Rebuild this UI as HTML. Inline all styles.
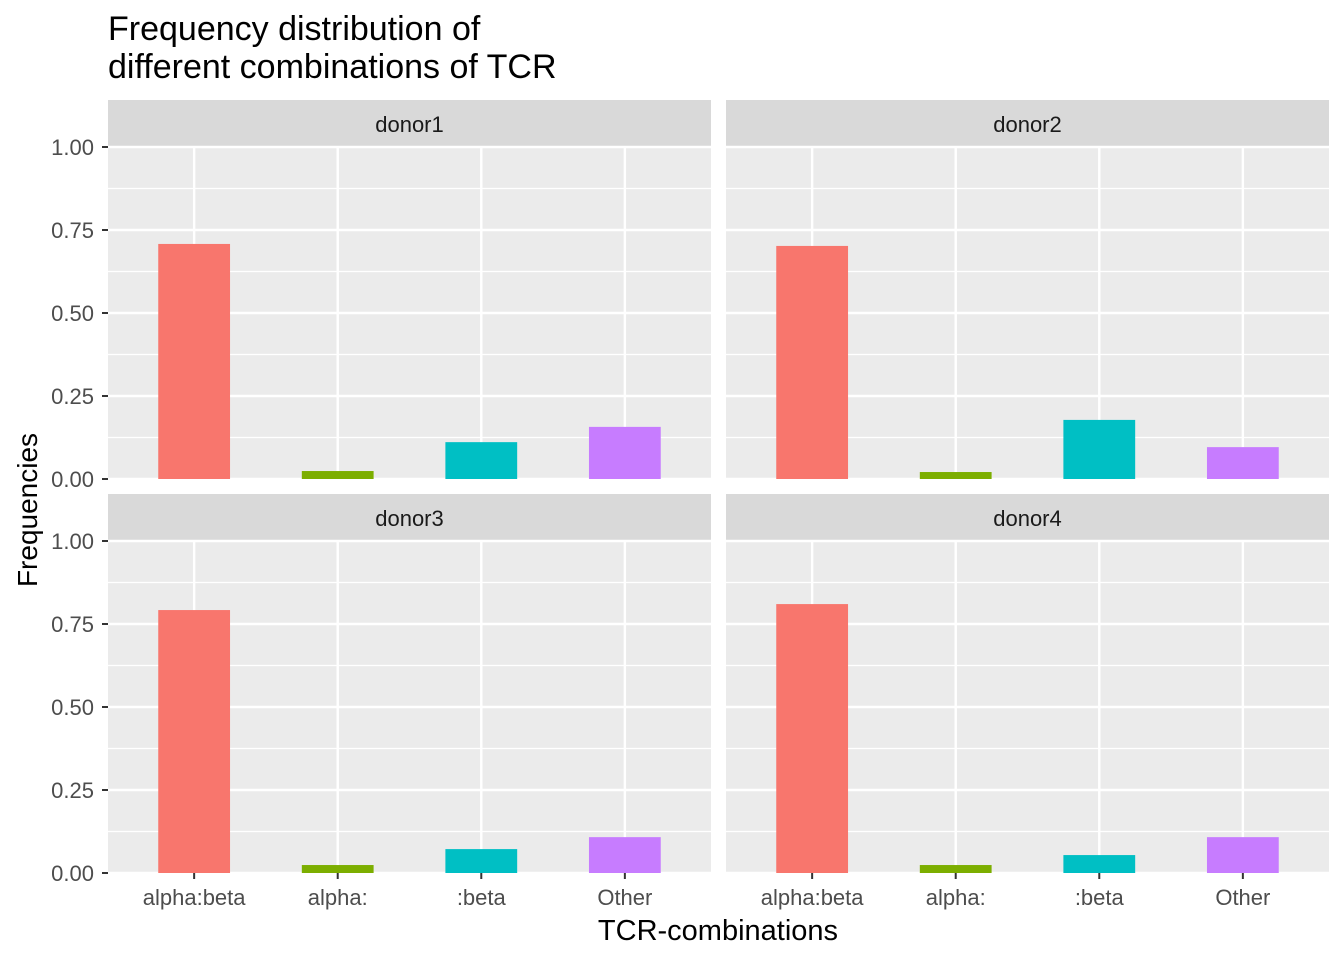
<!DOCTYPE html>
<html><head><meta charset="utf-8"><style>body{margin:0;background:#fff}svg{display:block}</style></head>
<body>
<svg id="chart" width="1344" height="960" xmlns="http://www.w3.org/2000/svg" font-family="Liberation Sans, sans-serif">
<text x="108" y="40" font-size="34" fill="#000">Frequency distribution of</text>
<text x="108" y="78" font-size="34" fill="#000">different combinations of TCR</text>
<text x="718" y="940" font-size="29" text-anchor="middle">TCR-combinations</text>
<text transform="translate(37,510) rotate(-90)" font-size="28" text-anchor="middle">Frequencies</text>
<g id="panels"></g>
</svg>
<script>
const categories = ["alpha:beta","alpha:",":beta","Other"];
const donors = ["donor1","donor2","donor3","donor4"];
const donor1Values = [0.708,0.024,0.111,0.157];
const donor2Values = [0.702,0.021,0.178,0.096];
const donor3Values = [0.792,0.024,0.072,0.108];
const donor4Values = [0.810,0.024,0.054,0.108];
const yTicks = [0,0.25,0.5,0.75,1.0];
const yTickLabels = ["0.00","0.25","0.50","0.75","1.00"];
const colors = ["#F8766D","#7CAE00","#00BFC4","#C77CFF"];
const allValues = [donor1Values,donor2Values,donor3Values,donor4Values];
const NS="http://www.w3.org/2000/svg";
const g=document.getElementById('panels');
function mk(tag,attrs,parent){const e=document.createElementNS(NS,tag);for(const k in attrs)e.setAttribute(k,attrs[k]);(parent||g).appendChild(e);return e;}
const panelX=[108,726], panelW=603;
const stripY=[100,494], stripH=46, plotH=333;
donors.forEach((d,i)=>{
  const col=i%2,row=Math.floor(i/2);
  const x0=panelX[col], top=stripY[row]+stripH, bottom=top+plotH;
  const yS=v=>bottom-v*332;
  const xS=c=>x0+(c+1-0.4)*panelW/4.2;
  const bw=0.5*panelW/4.2;
  const strip=mk('rect',{x:x0,y:stripY[row],width:panelW,height:stripH,fill:'#D9D9D9'});
  
  
  const st=mk('text',{x:x0+panelW/2,y:stripY[row]+32,'font-size':22,'text-anchor':'middle',fill:'#1A1A1A'});
  st.textContent=d;
  
  
  const bg=mk('rect',{x:x0,y:top,width:panelW,height:plotH,fill:'#EBEBEB'});
  
  
  for(let k=0;k<yTicks.length-1;k++){
    const m=(yTicks[k]+yTicks[k+1])/2;
    mk('line',{x1:x0,x2:x0+panelW,y1:yS(m),y2:yS(m),stroke:'#fff','stroke-width':1.2});
  }
  yTicks.forEach((t,k)=>{
    mk('line',{x1:x0,x2:x0+panelW,y1:yS(t),y2:yS(t),stroke:'#fff','stroke-width':2.4});
    if(col===0){
      mk('line',{x1:x0-6,x2:x0,y1:yS(t),y2:yS(t),stroke:'#333','stroke-width':2});
      const tl=mk('text',{x:x0-14,y:yS(t)+8,'font-size':22,'text-anchor':'end',fill:'#4D4D4D'});
      tl.textContent=yTickLabels[k];
      
      
    }
  });
  categories.forEach((c,k)=>{
    mk('line',{x1:xS(k),x2:xS(k),y1:top,y2:bottom,stroke:'#fff','stroke-width':2.4});
  });
  categories.forEach((c,k)=>{
    const v=allValues[i][k];
    const b=mk('rect',{x:xS(k)-bw/2,y:yS(v),width:bw,height:yS(0)-yS(v),fill:colors[k]});
    
    
    if(row===1){
      mk('line',{x1:xS(k),x2:xS(k),y1:bottom,y2:bottom+6,stroke:'#333','stroke-width':2});
      const xl=mk('text',{x:xS(k),y:bottom+32,'font-size':22,'text-anchor':'middle',fill:'#4D4D4D'});
      xl.textContent=c;
      
      
    }
  });
});
</script>
</body></html>
